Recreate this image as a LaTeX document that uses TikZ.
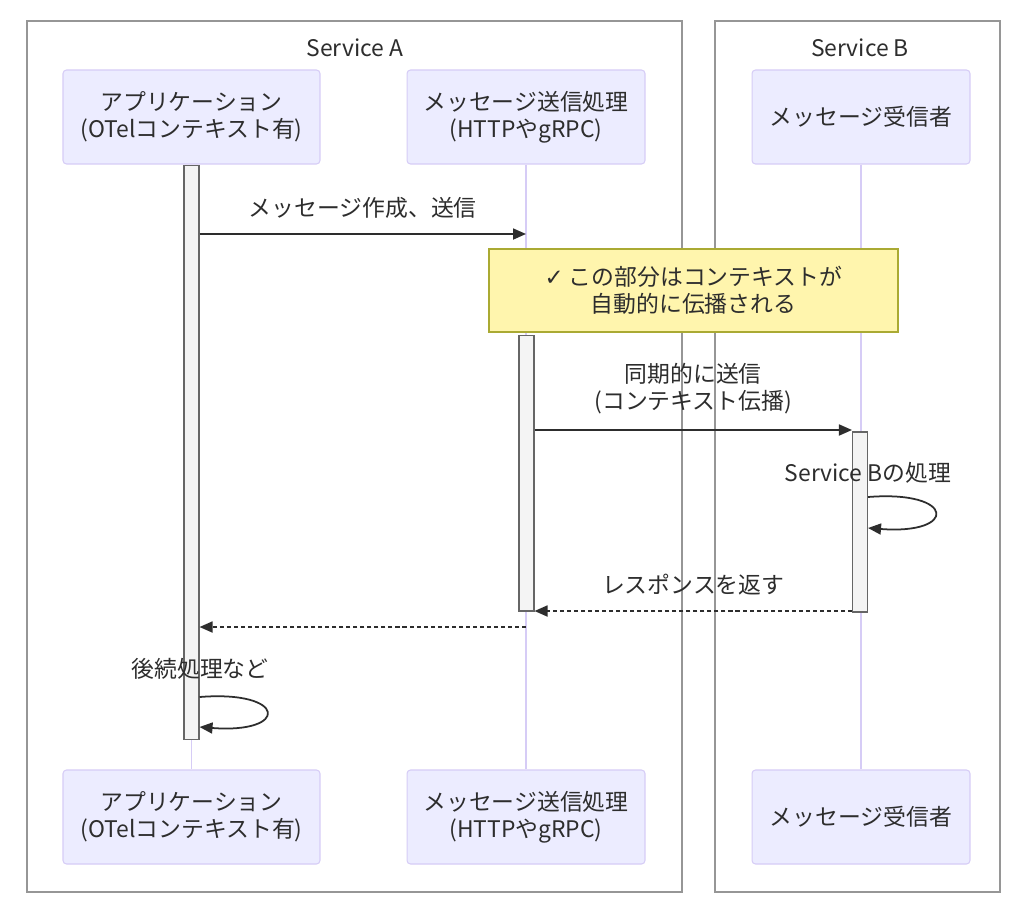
\documentclass[tikz,border=0pt]{standalone}
\usepackage{fontspec}
\setmainfont{Noto Sans CJK JP}
\newfontfamily\symfont{DejaVu Sans}
\usetikzlibrary{positioning,arrows.meta,calc}
\definecolor{seqText}{RGB}{45,45,45}
\definecolor{actorFill}{RGB}{236,236,255}
\definecolor{actorLine}{RGB}{214,204,246}
\definecolor{frameGray}{RGB}{150,150,150}
\definecolor{barFill}{RGB}{244,244,244}
\definecolor{barLine}{RGB}{102,102,102}
\definecolor{noteFill}{RGB}{255,245,173}
\definecolor{noteLine}{RGB}{170,170,51}

\begin{document}
\begin{tikzpicture}[x=0.02cm,y=-0.02cm,font=\fontsize{13pt}{15.3pt}\selectfont,text=seqText,
    actor/.style={draw=actorLine,fill=actorFill,rounded corners=2pt,line width=0.6pt,minimum height=1.88cm,align=center},
    actbar/.style={draw=barLine,fill=barFill,line width=0.6pt,minimum width=0.3cm,inner sep=0pt},
    msg/.style={seqText,line width=1pt,-{Triangle[length=2.6mm,width=2.2mm]}},
    reply/.style={msg,dash pattern=on 2.3pt off 1.7pt}]
    \fill[white] (0,0) rectangle (1024,913);
    \useasboundingbox (0,0) rectangle (1024,913);
    % service frames
    \draw[frameGray,line width=0.8pt] (27,21) rectangle (682,892);
    \draw[frameGray,line width=0.8pt] (715,21) rectangle (1000,892);
    \node (svcA) at (355,48) {Service A};
    \node (svcB) at (860,48) {Service B};
    % participants and lifelines
    \foreach \nm/\x/\w/\txt in {
      app/191.5/5.14/{アプリケーション\\(OTelコンテキスト有)},
      snd/526/4.76/{メッセージ送信処理\\(HTTPやgRPC)},
      rcv/861/4.36/{メッセージ受信者}} {
        \node[actor,minimum width=\w cm] (\nm Top) at (\x,117) {\txt};
        \node[actor,minimum width=\w cm] (\nm Bot) at (\x,817) {\txt};
        \draw[actorLine,line width=0.8pt] (\nm Top) -- (\nm Bot);
    }
    % activations
    \node[actbar,minimum height=11.5cm] (appAct) at (191.5,452.5) {};
    \node[actbar,minimum height=5.52cm] (sndAct) at (526.5,473) {};
    \node[actbar,minimum height=3.6cm] (rcvAct) at (860,522) {};
    % messages
    \draw[msg] (appAct.east |- 0,234) -- (sndTop.south |- 0,234)
      node[midway,yshift=0.52cm] (m1) {メッセージ作成、送信};
    \draw[msg] (sndAct.east |- 0,430) -- (rcvAct.west |- 0,430)
      node[midway,yshift=0.83cm,align=center] (m2) {同期的に送信\\(コンテキスト伝播)};
    \node (rcvWork) at (868,473) {Service Bの処理};
    \draw[msg] (rcvAct.east |- 0,497) .. controls +(88,-7) and +(90,7) .. (rcvAct.east |- 0,528);
    \draw[reply] (rcvAct.west |- 0,611) -- (sndAct.east |- 0,611)
      node[midway,yshift=0.52cm] (m3) {レスポンスを返す};
    \draw[reply] (sndBot.north |- 0,627) -- (appAct.east |- 0,627);
    \node (appWork) at (200,669) {後続処理など};
    \draw[msg] (appAct.east |- 0,697) .. controls +(88,-7) and +(90,7) .. (appAct.east |- 0,727);
    % note
    \node[draw=noteLine,fill=noteFill,line width=0.8pt,minimum width=8.18cm,minimum height=1.66cm,align=center]
      (ctxNote) at (693.5,290.5) {{\symfont ✓} この部分はコンテキストが\\自動的に伝播される};
\end{tikzpicture}
\end{document}
